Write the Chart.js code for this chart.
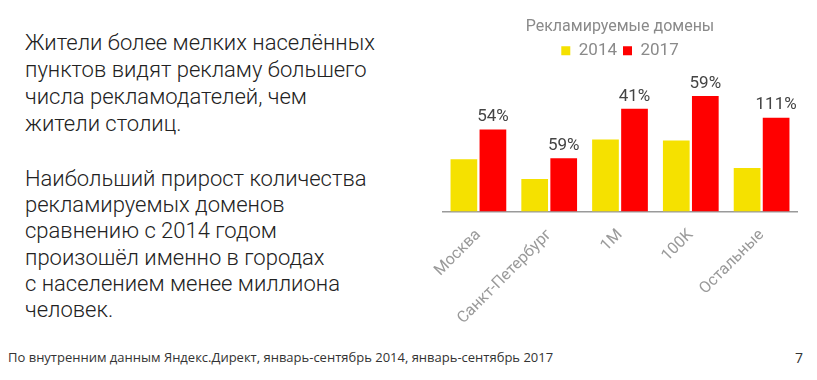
<!DOCTYPE html>
<html>
<head>
<meta charset="utf-8">
<script src="https://cdn.jsdelivr.net/npm/chart.js@4"></script>
<style>
  html, body { margin: 0; padding: 0; background: #fff; }
  body { width: 817px; height: 380px; position: relative; overflow: hidden; font-family: Roboto, sans-serif; }
  .txt { position: absolute; left: 25px; color: #222; font-size: 22px; font-weight: 300; line-height: 27px; }
  #p1 { top: 29px; }
  #p2 { top: 166px; line-height: 26.2px; }
  #foot { position: absolute; left: 8px; top: 348px; font-family: 'Open Sans', sans-serif; font-size: 13px; color: #333; }
  #page { position: absolute; left: 795px; top: 348px; font-family: 'Open Sans', sans-serif; font-size: 14px; color: #333; }
  #wrap { position: absolute; left: 430px; top: 0; width: 387px; height: 334px; }
</style>
</head>
<body>
<div class="txt" id="p1">Жители более мелких населённых<br>пунктов видят рекламу большего<br>числа рекламодателей, чем<br>жители столиц.</div>
<div class="txt" id="p2">Наибольший прирост количества<br>рекламируемых доменов<br>сравнению с 2014 годом<br>произошёл именно в городах<br>с населением менее миллиона<br>человек.</div>
<div id="foot">По внутренним данным Яндекс.Директ, январь-сентябрь 2014, январь-сентябрь 2017</div>
<div id="page">7</div>
<div id="wrap"><canvas id="c"></canvas></div>
<script>
// categories and values (relative bar heights)
const cities = ['Москва', 'Санкт-Петербург', '1M', '100K', 'Остальные'];
const domains2014 = [53, 33, 73, 72, 44];
const domains2017 = [83, 54, 104, 117, 95];
const growthLabels = ['54%', '59%', '41%', '59%', '111%'];

// draws the growth % above each 2017 bar
const growthPlugin = {
    id: 'growth',
    afterDatasetsDraw: (chart) => {
        const ctx = chart.ctx;
        const meta = chart.getDatasetMeta(1);
        ctx.save();
        ctx.fillStyle = '#444';
        ctx.font = '17px Roboto, sans-serif';
        ctx.textAlign = 'center';
        ctx.textBaseline = 'bottom';
        meta.data.forEach((bar, i) => {
            ctx.fillText(growthLabels[i], bar.x, bar.y - 4);
        });
        ctx.restore();
    }
};

new Chart(document.getElementById('c').getContext('2d'), {
    type: 'bar',
    data: {
        labels: cities,
        datasets: [{
            label: '2014',
            data: domains2014,
            backgroundColor: '#f5e100',
            categoryPercentage: 0.82,
            barPercentage: 0.92
        }, {
            label: '2017',
            data: domains2017,
            backgroundColor: '#ff0000',
            categoryPercentage: 0.82,
            barPercentage: 0.92
        }]
    },
    options: {
        responsive: true,
        maintainAspectRatio: false,
        animation: false,
        layout: { padding: { left: 13, right: 20, top: 8, bottom: 0 } },
        plugins: {
            title: {
                display: true,
                text: 'Рекламируемые домены',
                color: '#8a8a8a',
                font: { family: 'Roboto', size: 16, weight: 'normal' },
                padding: { top: 9, bottom: 0 }
            },
            legend: {
                display: true,
                labels: {
                    color: '#8a8a8a',
                    font: { family: 'Roboto', size: 17 },
                    boxWidth: 9,
                    boxHeight: 9,
                    padding: 6
                }
            },
            tooltip: { enabled: false }
        },
        scales: {
            x: {
                grid: { display: false },
                border: { display: true, color: '#9a9a9a', width: 1.5 },
                ticks: {
                    color: '#9a9a9a',
                    font: { family: 'Roboto', size: 16 },
                    minRotation: 45,
                    maxRotation: 45,
                    padding: 6
                }
            },
            y: {
                display: false,
                min: 0,
                max: 144
            }
        }
    },
    plugins: [growthPlugin]
});
</script>
</body>
</html>
